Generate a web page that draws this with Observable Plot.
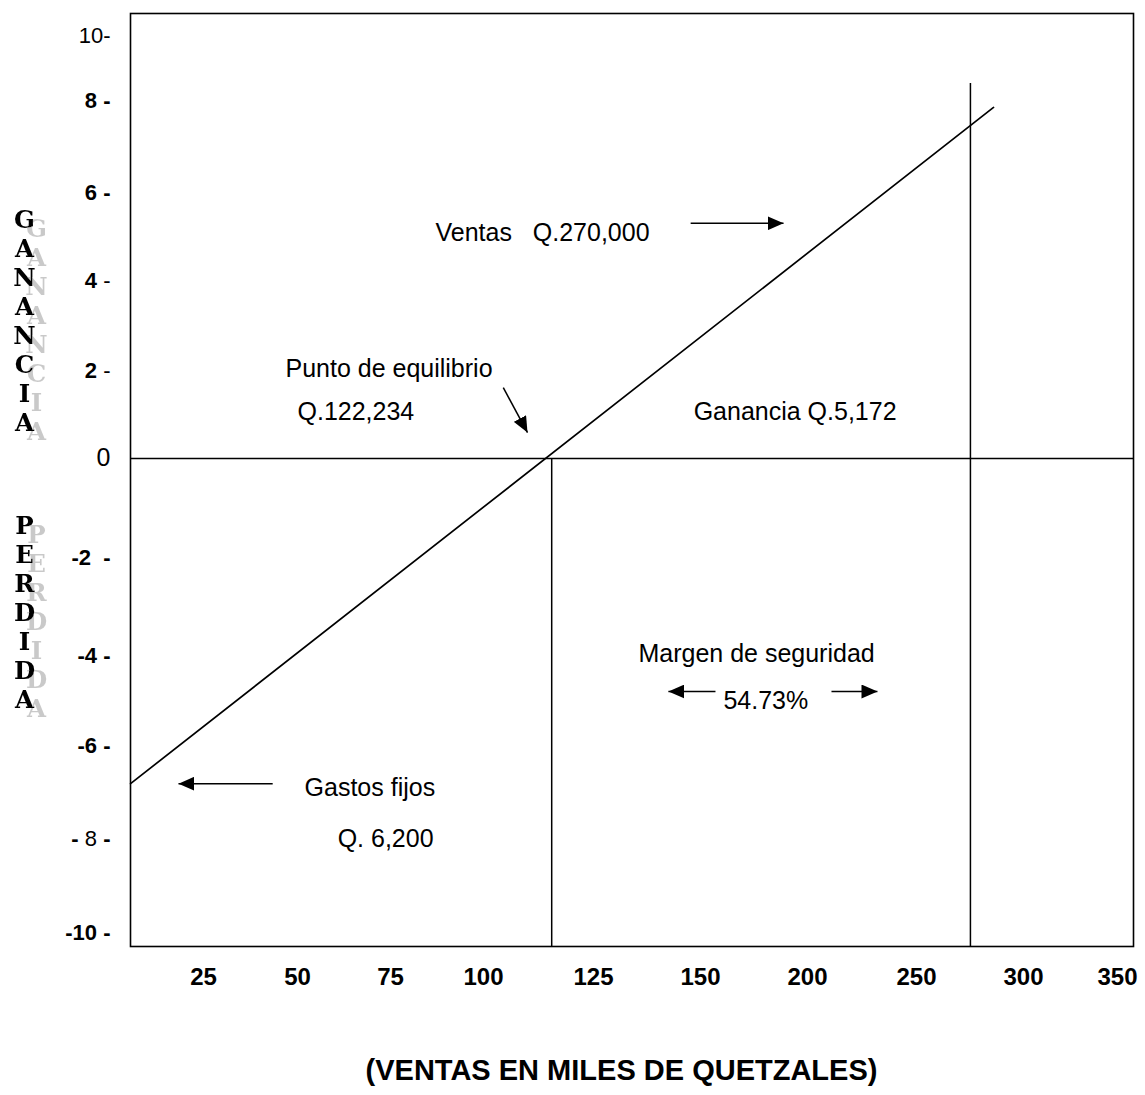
<!DOCTYPE html>
<html>
<head>
<meta charset="utf-8">
<script src="https://cdn.jsdelivr.net/npm/d3@7"></script>
<script src="https://cdn.jsdelivr.net/npm/@observablehq/plot@0.6"></script>
<style>
  html, body { margin: 0; padding: 0; background: #fff; }
  svg text { white-space: pre; }
  #title {
    font-family: "Liberation Sans", Arial, sans-serif;
    font-weight: bold; font-size: 29px; color: #000;
    width: 1145px; box-sizing: border-box; padding-left: 98px;
    text-align: center; height: 55px; line-height: 60px;
  }
</style>
</head>
<body>
<div id="chart"></div>
<div id="title">(VENTAS EN MILES DE QUETZALES)</div>
<script>
// ---- data (values in chart units) ----
const xTickValues = [25, 50, 75, 100, 125, 150, 200, 250, 300, 350];
const xTickLabels = ["25", "50", "75", "100", "125", "150", "200", "250", "300", "350"];
const yTickValues = [-10, -8, -6, -4, -2, 0, 2, 4, 6, 8, 10];
const yTickLabels = ["-10 -", "- 8 -", "-6 -", "-4 -", "-2  -", "0", "2 -", "4 -", "6 -", "8 -", "10-"];

// sales / profit line (ventas, ganancia)
const salesX = [5.6, 286];
const salesY = [-6.82, 7.85];

// vertical guide lines: break-even and actual sales
const guideX = [115.5, 275.2];
const guideTop = [0, 8.52];
const chartBottom = -10.3;

// annotations
const noteText = ["Ventas   Q.270,000", "Punto de equilibrio", "Q.122,234", "Ganancia Q.5,172",
                  "Margen de seguridad", "54.73%", "Gastos fijos", "Q. 6,200"];
const noteX = [87.1, 46.8, 50, 148.4, 135.5, 160.7, 51.9, 60.8];
const noteY = [5.07, 2.04, 1.05, 1.05, -3.96, -5.0, -6.92, -8.02];

// arrows
const arrowX1 = [147.7, 104.5, 157, 211, 43.4];
const arrowY1 = [5.30, 1.61, -4.8, -4.8, -6.82];
const arrowX2 = [188.8, 110, 142.5, 232.1, 18.35];
const arrowY2 = [5.30, 0.59, -4.8, -4.8, -6.82];

// side words
const sideWords = ["GANANCIA", "PERDIDA"];
const sideWordY = [3.11, -3.11];

// ---- scale configuration (piecewise, matching the drawn tick spacing) ----
const xRange = [203, 297, 390, 483, 593, 700, 807, 916, 1023, 1117];
const yRange = [932, 838, 745, 655, 557, 458, 370, 280, 192, 100, 35];

const sales = salesX.map((x, i) => ({x, y: salesY[i]}));
const guides = guideX.map((x, i) => ({x, top: guideTop[i], bottom: chartBottom}));
const notes = noteText.map((t, i) => ({t, x: noteX[i], y: noteY[i]}));
const arrows = arrowX1.map((x1, i) => ({x1, y1: arrowY1[i], x2: arrowX2[i], y2: arrowY2[i]}));
const words = sideWords.map((w, i) => ({w: w.split("").join("\n"), y: sideWordY[i]}));

function filledArrow(color, context) {
  const doc = (context && context.document) || document;
  const ns = "http://www.w3.org/2000/svg";
  const m = doc.createElementNS(ns, "marker");
  m.setAttribute("viewBox", "0 0 16 14");
  m.setAttribute("markerWidth", 16);
  m.setAttribute("markerHeight", 14);
  m.setAttribute("markerUnits", "userSpaceOnUse");
  m.setAttribute("refX", 16);
  m.setAttribute("refY", 7);
  m.setAttribute("orient", "auto");
  const p = doc.createElementNS(ns, "path");
  p.setAttribute("d", "M0,0L16,7L0,14Z");
  p.setAttribute("fill", color);
  p.setAttribute("stroke", "none");
  m.appendChild(p);
  return m;
}

function build(marker) {
  return Plot.plot({
    width: 1145,
    height: 1040,
    marginTop: 13,
    marginLeft: 130,
    marginRight: 12,
    marginBottom: 94,
    style: {fontFamily: "'Liberation Sans', Arial, sans-serif", background: "white", color: "black"},
    x: {type: "linear", domain: xTickValues, range: xRange},
    y: {type: "linear", domain: yTickValues, range: yRange},
    marks: [
      Plot.frame({stroke: "black", strokeWidth: 1.6}),
      Plot.ruleY([0], {stroke: "black", strokeWidth: 1.5}),
      Plot.ruleX(guides, {x: "x", y1: "top", y2: "bottom", stroke: "black", strokeWidth: 1.5}),
      Plot.line(sales, {x: "x", y: "y", stroke: "black", strokeWidth: 1.7}),
      Plot.link(arrows, {x1: "x1", y1: "y1", x2: "x2", y2: "y2", stroke: "black", strokeWidth: 1.5, markerEnd: marker}),
      Plot.text(notes, {x: "x", y: "y", text: "t", textAnchor: "start", fontSize: 25, fill: "black"}),
      Plot.axisX(xTickValues, {
        tickFormat: d => xTickLabels[xTickValues.indexOf(d)],
        tickSize: 0, tickPadding: 21, fontSize: 24, fontWeight: "bold", label: null
      }),
      Plot.axisY(yTickValues, {
        tickFormat: d => yTickLabels[yTickValues.indexOf(d)],
        tickSize: 0, tickPadding: 20, fontSize: 22, fontWeight: "bold", label: null
      }),
      // side words (stacked letters), grey shadow added below via an SVG filter
      Plot.text(words, {text: "w", y: "y", frameAnchor: "left", textAnchor: "middle", dx: -106, lineHeight: 1.184,
        fontSize: 24.5, fontFamily: "'DejaVu Serif', 'Liberation Serif', serif", fontWeight: "bold", fill: "black",
        ariaDescription: "side-words"})
    ]
  });
}

let chart;
try { chart = build(filledArrow); } catch (e) { chart = build("arrow"); }
document.getElementById("chart").appendChild(chart);

const svg = d3.select(chart);

// grey offset shadow of the stacked words, as in the original
const defs = svg.insert("defs", ":first-child");
const f = defs.append("filter").attr("id", "wordShadow")
  .attr("x", "-50%").attr("y", "-20%").attr("width", "200%").attr("height", "140%");
f.append("feOffset").attr("in", "SourceAlpha").attr("dx", 12).attr("dy", 9).attr("result", "off");
f.append("feFlood").attr("flood-color", "#c9c9c9").attr("result", "col");
f.append("feComposite").attr("in", "col").attr("in2", "off").attr("operator", "in").attr("result", "shadow");
const mg = f.append("feMerge");
mg.append("feMergeNode").attr("in", "shadow");
mg.append("feMergeNode").attr("in", "SourceGraphic");
svg.selectAll("g").filter(function () {
  return this.getAttribute("aria-description") === "side-words";
}).attr("filter", "url(#wordShadow)");

// mixed weights on some y tick labels, as in the original
const labelParts = {
  "10-": [["10-", "normal"]],
  "0": [["0", "normal", 25]],
  "2 -": [["2 ", "bold"], ["-", "normal"]],
  "4 -": [["4 ", "bold"], ["-", "normal"]],
  "- 8 -": [["- ", "bold"], ["8", "normal"], [" -", "bold"]]
};
svg.selectAll('g[aria-label="y-axis tick label"] text').each(function () {
  const parts = labelParts[this.textContent];
  if (!parts) return;
  const sel = d3.select(this);
  sel.text(null);
  parts.forEach(([s, w, fs]) => {
    const ts = sel.append("tspan").text(s).attr("font-weight", w);
    if (fs) ts.attr("font-size", fs);
  });
});
</script>
</body>
</html>
